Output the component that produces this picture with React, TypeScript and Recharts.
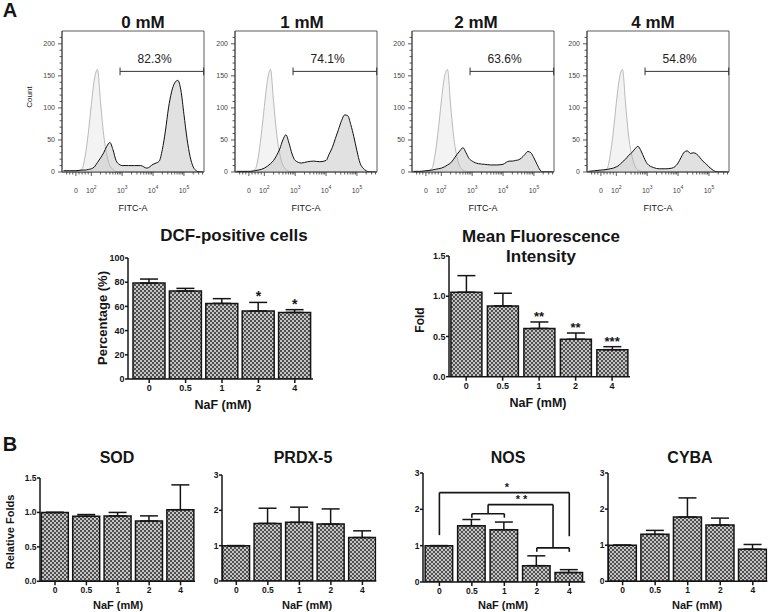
import React from "react";
import {
  AreaChart,
  Area,
  ComposedChart,
  Bar,
  ErrorBar,
  XAxis,
  YAxis,
  ReferenceArea,
  ReferenceLine,
  ReferenceDot,
} from "recharts";

const FONT = "'Liberation Sans', Arial, Helvetica, sans-serif";
const INK = "#151515";

// ---- panel A: flow histograms (FITC-A, biexponential axis in decades) ----
const FITC_U = [
  1.1, 1.3, 1.5, 1.7, 1.8, 1.9, 2.0, 2.1, 2.2, 2.3, 2.4, 2.5, 2.6, 2.7, 2.8, 2.9, 3.0,
  3.2, 3.4, 3.6, 3.8,
  4.0, 4.1, 4.2, 4.3, 4.4, 4.5, 4.6, 4.7, 4.8, 4.9, 5.0, 5.1, 5.2, 5.3, 5.4, 5.5, 5.6,
];
const HIST_TITLES = ["0 mM", "1 mM", "2 mM", "4 mM"];
const GATE_PCT = ["82.3%", "74.1%", "63.6%", "54.8%"];
const HIST_MAJOR_U = [1.5, 2, 3, 4, 5];
const HIST_X_LABELS = ["0", "10^2", "10^3", "10^4", "10^5"];
const HIST_Y_LABELS = [0, 50, 100, 150, 200];

const CONTROL_0 = [0, 0, 0, 5, 25, 60, 105, 145, 160, 108, 58, 27, 10, 4, 1, 0, 0, 0, 0, 0, 0, 0, 0, 0, 0, 0, 0, 0, 0, 0, 0, 0, 0, 0, 0, 0, 0, 0];
const CONTROL_1 = [0, 0, 0, 4, 22, 58, 102, 143, 160, 110, 60, 28, 11, 4, 1, 0, 0, 0, 0, 0, 0, 0, 0, 0, 0, 0, 0, 0, 0, 0, 0, 0, 0, 0, 0, 0, 0, 0];
const CONTROL_2 = [0, 0, 0, 6, 28, 65, 110, 148, 160, 105, 55, 25, 9, 3, 1, 0, 0, 0, 0, 0, 0, 0, 0, 0, 0, 0, 0, 0, 0, 0, 0, 0, 0, 0, 0, 0, 0, 0];
const CONTROL_4 = [0, 0, 0, 5, 26, 62, 108, 146, 160, 106, 56, 26, 10, 3, 1, 0, 0, 0, 0, 0, 0, 0, 0, 0, 0, 0, 0, 0, 0, 0, 0, 0, 0, 0, 0, 0, 0, 0];

const SAMPLE_0 = [2, 2, 2, 3, 3, 4, 5, 8, 15, 22, 30, 40, 46, 35, 18, 12, 10, 10, 10, 10, 6, 12, 14, 17, 35, 64, 100, 125, 139, 143, 128, 90, 52, 24, 8, 2, 0, 0];
const SAMPLE_1 = [1, 1, 1, 2, 3, 4, 6, 9, 13, 18, 26, 36, 50, 58, 45, 28, 18, 14, 16, 17, 16, 18, 28, 38, 52, 66, 80, 89, 88, 74, 55, 33, 14, 6, 2, 0, 0, 0];
const SAMPLE_2 = [1, 1, 2, 3, 4, 5, 6, 8, 11, 14, 20, 27, 33, 38, 30, 21, 17, 13, 12, 11, 11, 12, 15, 17, 17, 18, 19, 22, 27, 32, 30, 22, 12, 3, 0, 0, 0, 0];
const SAMPLE_4 = [1, 2, 3, 4, 5, 6, 8, 11, 16, 20, 26, 30, 36, 40, 33, 22, 13, 7, 5, 5, 6, 14, 23, 31, 33, 29, 30, 28, 23, 17, 13, 8, 4, 1, 0, 0, 0, 0];

// ---- bar charts ----
const DOSES = ["0", "0.5", "1", "2", "4"];

const DCF_MEAN = [79.3, 72.7, 62.5, 56.2, 55.0];
const DCF_ERR = [3.3, 2.2, 3.9, 7.1, 2.3];
const DCF_STARS = ["", "", "", "*", "*"];

const MFI_MEAN = [1.05, 0.88, 0.6, 0.465, 0.336];
const MFI_ERR = [0.206, 0.157, 0.08, 0.078, 0.037];
const MFI_STARS = ["", "", "**", "**", "***"];

const SOD_MEAN = [1.0, 0.944, 0.95, 0.876, 1.04];
const SOD_ERR = [0, 0.025, 0.05, 0.074, 0.36];

const PRDX_MEAN = [1.0, 1.63, 1.66, 1.61, 1.23];
const PRDX_ERR = [0, 0.43, 0.43, 0.43, 0.19];

const NOS_MEAN = [1.0, 1.55, 1.44, 0.45, 0.26];
const NOS_ERR = [0, 0.17, 0.21, 0.27, 0.08];

const CYBA_MEAN = [1.0, 1.3, 1.78, 1.56, 0.89];
const CYBA_ERR = [0, 0.11, 0.53, 0.19, 0.13];

// NOS significance brackets, [x1, y1, x2, y2] in data units
const NOS_BRACKETS = [
  [0, 1.29, 0, 2.46], [0, 2.46, 4, 2.46], [4, 2.46, 4, 1.26],
  [1, 1.77, 1, 1.88], [1, 1.88, 2, 1.88], [2, 1.88, 2, 1.77],
  [3, 0.83, 3, 0.94], [3, 0.94, 4, 0.94], [4, 0.94, 4, 0.83],
  [1.5, 1.88, 1.5, 2.13], [1.5, 2.13, 3.5, 2.13], [3.5, 2.13, 3.5, 0.94],
];
const NOS_MARKS = [
  { x: 2.08, y: 2.46, text: "*" },
  { x: 2.53, y: 2.13, text: "* *" },
];

const minorU: number[] = [1.2, 1.3, 1.4, 1.6, 1.7, 1.8, 1.9];
[2, 3, 4, 5].forEach((d) => {
  for (let k = 2; k < 10; k++) {
    const v = d + Math.log10(k);
    if (v < 5.64) minorU.push(v);
  }
});
const HIST_X_TICKS = [...HIST_MAJOR_U, ...minorU].sort((a, b) => a - b);
const HIST_Y_TICKS = Array.from({ length: 22 }, (_, i) => i * 10);
const HIST_X_DOMAIN: [number, number] = [1.05, 5.65];

function Txt({ x, y, size, bold = false, rotate = false, color = INK, children }: any) {
  return (
    <div
      style={{
        position: "absolute",
        left: x,
        top: y,
        transform: `translate(-50%, -50%)${rotate ? " rotate(-90deg)" : ""}`,
        fontSize: size,
        fontWeight: bold ? 700 : 400,
        lineHeight: 1,
        whiteSpace: "nowrap",
        color,
        fontFamily: FONT,
      }}
    >
      {children}
    </div>
  );
}

function HistXTick({ x, y, payload }: any) {
  const mi = HIST_MAJOR_U.indexOf(payload.value);
  const major = mi >= 0;
  const lab = major ? HIST_X_LABELS[mi].split("^") : [];
  return (
    <g>
      <line x1={x} x2={x} y1={y} y2={y + (major ? 4 : 2.5)} stroke="#333" strokeWidth={0.8} />
      {major && (
        <text x={x} y={y + 21} textAnchor="middle" fontSize={7} fill="#444" fontFamily={FONT}>
          <tspan>{lab[0]}</tspan>
          {lab[1] && (
            <tspan dy={-4} fontSize={5}>
              {lab[1]}
            </tspan>
          )}
        </text>
      )}
    </g>
  );
}

function HistYTick({ x, y, payload }: any) {
  const major = HIST_Y_LABELS.includes(payload.value);
  return (
    <g>
      <line x1={x} x2={x - (major ? 4 : 2.5)} y1={y} y2={y} stroke="#333" strokeWidth={0.8} />
      {major && (
        <text x={x - 7} y={y} dy="0.35em" textAnchor="end" fontSize={7} fill="#444" fontFamily={FONT}>
          {payload.value}
        </text>
      )}
    </g>
  );
}

function Histogram({ left, control, sample, pct }: any) {
  const data = FITC_U.map((u, i) => ({ u, control: control[i], sample: sample[i] }));
  return (
    <div style={{ position: "absolute", left: left - 30, top: 29 }}>
      <AreaChart width={174} height={173} data={data} margin={{ top: 2, right: 2, left: 0, bottom: 0 }}>
        <XAxis
          dataKey="u"
          type="number"
          domain={HIST_X_DOMAIN}
          ticks={HIST_X_TICKS}
          interval={0}
          height={30}
          tickSize={0}
          tickMargin={0}
          tickLine={false}
          axisLine={{ stroke: "#333", strokeWidth: 0.8 }}
          tick={(p: any) => <HistXTick {...p} />}
          allowDataOverflow
        />
        <YAxis
          type="number"
          domain={[0, 220]}
          ticks={HIST_Y_TICKS}
          interval={0}
          width={30}
          tickSize={0}
          tickMargin={0}
          tickLine={false}
          axisLine={{ stroke: "#333", strokeWidth: 0.8 }}
          tick={(p: any) => <HistYTick {...p} />}
          allowDataOverflow
        />
        <ReferenceArea x1={HIST_X_DOMAIN[0]} x2={HIST_X_DOMAIN[1]} y1={0} y2={220} fill="none" stroke="#333" strokeWidth={0.8} />
        <Area
          dataKey="control"
          type="monotone"
          stroke="#a8a8a8"
          strokeWidth={0.8}
          fill="#f3f3f3"
          fillOpacity={1}
          isAnimationActive={false}
        />
        <Area
          dataKey="sample"
          type="monotone"
          stroke="#111"
          strokeWidth={1}
          fill="#b8b8b8"
          fillOpacity={0.42}
          isAnimationActive={false}
        />
        <ReferenceLine segment={[{ x: 2.93, y: 157 }, { x: 5.64, y: 157 }]} stroke="#333" strokeWidth={1} ifOverflow="visible" />
        <ReferenceLine segment={[{ x: 2.93, y: 151 }, { x: 2.93, y: 163 }]} stroke="#333" strokeWidth={1} ifOverflow="visible" />
        <ReferenceLine segment={[{ x: 5.64, y: 151 }, { x: 5.64, y: 163 }]} stroke="#333" strokeWidth={1} ifOverflow="visible" />
        <ReferenceDot
          x={4.05}
          y={177}
          r={1}
          ifOverflow="visible"
          shape={(p: any) => (
            <text x={p.cx} y={p.cy} dy="0.36em" textAnchor="middle" fontSize={12} fill="#222" fontFamily={FONT}>
              {pct}
            </text>
          )}
        />
      </AreaChart>
    </div>
  );
}

function BarXTick({ x, y, payload, fs }: any) {
  return (
    <g>
      <line x1={x} x2={x} y1={y} y2={y + 4} stroke={INK} strokeWidth={1.5} />
      <text x={x} y={y + 6} dy="0.71em" textAnchor="middle" fontSize={fs} fontWeight={700} fill={INK} fontFamily={FONT}>
        {DOSES[payload.value]}
      </text>
    </g>
  );
}

function BarYTick({ x, y, payload, fs, digits }: any) {
  return (
    <g>
      <line x1={x} x2={x - 3} y1={y} y2={y} stroke={INK} strokeWidth={1.5} />
      <text x={x - 3.5} y={y} dy="0.36em" textAnchor="end" fontSize={fs} fontWeight={700} fill={INK} fontFamily={FONT}>
        {Number(payload.value).toFixed(digits)}
      </text>
    </g>
  );
}

function BarPanel({ rect, means, errs, yMax, yTicks, digits, xDomain, barSize, fs, stars, starSize = 13, brackets, marks }: any) {
  const w = rect.right - rect.left;
  const h = rect.bottom - rect.top;
  const data = means.map((m: number, i: number) => ({ i, mean: m, range: [0, errs[i]] }));
  return (
    <div style={{ position: "absolute", left: rect.left - 40, top: rect.top - 10 }}>
      <ComposedChart width={40 + w + 10} height={10 + h + 22} data={data} margin={{ top: 10, right: 10, left: 0, bottom: 0 }}>
        <XAxis
          dataKey="i"
          type="number"
          domain={xDomain}
          ticks={[0, 1, 2, 3, 4]}
          interval={0}
          height={22}
          tickSize={0}
          tickMargin={0}
          tickLine={false}
          axisLine={{ stroke: INK, strokeWidth: 1.5 }}
          tick={(p: any) => <BarXTick {...p} fs={fs} />}
          allowDataOverflow
        />
        <YAxis
          type="number"
          domain={[0, yMax]}
          ticks={yTicks}
          interval={0}
          width={40}
          tickSize={0}
          tickMargin={0}
          tickLine={false}
          axisLine={{ stroke: INK, strokeWidth: 1.5 }}
          tick={(p: any) => <BarYTick {...p} fs={fs} digits={digits} />}
          allowDataOverflow
        />
        <Bar dataKey="mean" barSize={barSize} fill="url(#checker)" stroke={INK} strokeWidth={1.5} isAnimationActive={false}>
          <ErrorBar dataKey="range" width={9} stroke={INK} strokeWidth={1.5} direction="y" />
        </Bar>
        {stars &&
          stars.map((s: string, i: number) =>
            s ? (
              <ReferenceDot
                key={"s" + i}
                x={i}
                y={means[i] + errs[i]}
                r={1}
                ifOverflow="visible"
                shape={(p: any) => (
                  <text x={p.cx} y={p.cy - 1} textAnchor="middle" fontSize={starSize} fontWeight={700} fill={INK} fontFamily={FONT}>
                    {s}
                  </text>
                )}
              />
            ) : null
          )}
        {brackets &&
          brackets.map((b: number[], i: number) => (
            <ReferenceLine
              key={"b" + i}
              segment={[{ x: b[0], y: b[1] }, { x: b[2], y: b[3] }]}
              stroke={INK}
              strokeWidth={1.6}
              ifOverflow="visible"
            />
          ))}
        {marks &&
          marks.map((m: any, i: number) => (
            <ReferenceDot
              key={"m" + i}
              x={m.x}
              y={m.y}
              r={1}
              ifOverflow="visible"
              shape={(p: any) => (
                <text x={p.cx} y={p.cy - 2} textAnchor="middle" fontSize={11} fontWeight={700} fill={INK} fontFamily={FONT}>
                  {m.text}
                </text>
              )}
            />
          ))}
      </ComposedChart>
    </div>
  );
}

export default function App() {
  const histLefts = [62, 235, 412, 587];
  const controls = [CONTROL_0, CONTROL_1, CONTROL_2, CONTROL_4];
  const samples = [SAMPLE_0, SAMPLE_1, SAMPLE_2, SAMPLE_4];
  const titleX = [143, 302, 476, 653];

  return (
    <div
      style={{
        position: "absolute",
        left: 0,
        top: 0,
        width: 780,
        height: 612,
        background: "#fff",
        overflow: "hidden",
        fontFamily: FONT,
      }}
    >
      {/* shared bar fill: fine checker like the GraphPad hatch */}
      <svg width={0} height={0} style={{ position: "absolute" }}>
        <defs>
          <pattern id="checker" width={4} height={4} patternUnits="userSpaceOnUse">
            <rect width={4} height={4} fill="#505050" />
            <rect width={2} height={2} fill="#c4c4c4" />
            <rect x={2} y={2} width={2} height={2} fill="#c4c4c4" />
          </pattern>
        </defs>
      </svg>

      <Txt x={10} y={10} size={20} bold>A</Txt>
      <Txt x={10} y={444} size={20} bold>B</Txt>

      {histLefts.map((l, k) => (
        <React.Fragment key={k}>
          <Histogram left={l} control={controls[k]} sample={samples[k]} pct={GATE_PCT[k]} />
          <Txt x={titleX[k]} y={22} size={17} bold>{HIST_TITLES[k]}</Txt>
          <Txt x={l + 71} y={208} size={9}>FITC-A</Txt>
        </React.Fragment>
      ))}
      <Txt x={30} y={97} size={8} rotate>Count</Txt>

      {/* DCF-positive cells */}
      <Txt x={234} y={235} size={17} bold>DCF-positive cells</Txt>
      <Txt x={102} y={318} size={13} bold rotate>Percentage (%)</Txt>
      <BarPanel
        rect={{ left: 128.3, top: 258.3, right: 313.3, bottom: 379.3 }}
        means={DCF_MEAN}
        errs={DCF_ERR}
        yMax={100}
        yTicks={[0, 20, 40, 60, 80, 100]}
        digits={0}
        xDomain={[-0.582, 4.5]}
        barSize={32}
        fs={9}
        stars={DCF_STARS}
        starSize={14}
      />
      <Txt x={223} y={405} size={12.5} bold>NaF (mM)</Txt>

      {/* Mean Fluorescence Intensity */}
      <Txt x={541} y={236} size={17} bold>Mean Fluorescence</Txt>
      <Txt x={541} y={256} size={17} bold>Intensity</Txt>
      <Txt x={420} y={320} size={12} bold rotate>Fold</Txt>
      <BarPanel
        rect={{ left: 449, top: 256, right: 630, bottom: 376.7 }}
        means={MFI_MEAN}
        errs={MFI_ERR}
        yMax={1.5}
        yTicks={[0, 0.5, 1.0, 1.5]}
        digits={1}
        xDomain={[-0.47, 4.49]}
        barSize={31}
        fs={9}
        stars={MFI_STARS}
        starSize={13}
      />
      <Txt x={538} y={403} size={12.5} bold>NaF (mM)</Txt>

      {/* B panels */}
      <Txt x={10} y={532} size={11} bold rotate>Relative Folds</Txt>

      <Txt x={117} y={458} size={16} bold>SOD</Txt>
      <BarPanel
        rect={{ left: 40, top: 477.7, right: 195, bottom: 581 }}
        means={SOD_MEAN}
        errs={SOD_ERR}
        yMax={1.5}
        yTicks={[0, 0.5, 1.0, 1.5]}
        digits={1}
        xDomain={[-0.478, 4.46]}
        barSize={27}
        fs={8.5}
      />
      <Txt x={118} y={605} size={11} bold>NaF (mM)</Txt>

      <Txt x={303} y={458} size={16} bold>PRDX-5</Txt>
      <BarPanel
        rect={{ left: 221.7, top: 475, right: 376, bottom: 581 }}
        means={PRDX_MEAN}
        errs={PRDX_ERR}
        yMax={3}
        yTicks={[0, 1, 2, 3]}
        digits={0}
        xDomain={[-0.454, 4.44]}
        barSize={27}
        fs={8.5}
      />
      <Txt x={307} y={605} size={11} bold>NaF (mM)</Txt>

      <Txt x={508} y={458} size={16} bold>NOS</Txt>
      <BarPanel
        rect={{ left: 423.3, top: 472.7, right: 585.5, bottom: 581.7 }}
        means={NOS_MEAN}
        errs={NOS_ERR}
        yMax={3}
        yTicks={[0, 1, 2, 3]}
        digits={0}
        xDomain={[-0.505, 4.49]}
        barSize={27.5}
        fs={8.5}
        brackets={NOS_BRACKETS}
        marks={NOS_MARKS}
      />
      <Txt x={503} y={605} size={11} bold>NaF (mM)</Txt>

      <Txt x={690} y={458} size={16} bold>CYBA</Txt>
      <BarPanel
        rect={{ left: 607.7, top: 472.7, right: 767, bottom: 581 }}
        means={CYBA_MEAN}
        errs={CYBA_ERR}
        yMax={3}
        yTicks={[0, 1, 2, 3]}
        digits={0}
        xDomain={[-0.449, 4.445]}
        barSize={28}
        fs={8.5}
      />
      <Txt x={697} y={605} size={11} bold>NaF (mM)</Txt>
    </div>
  );
}
